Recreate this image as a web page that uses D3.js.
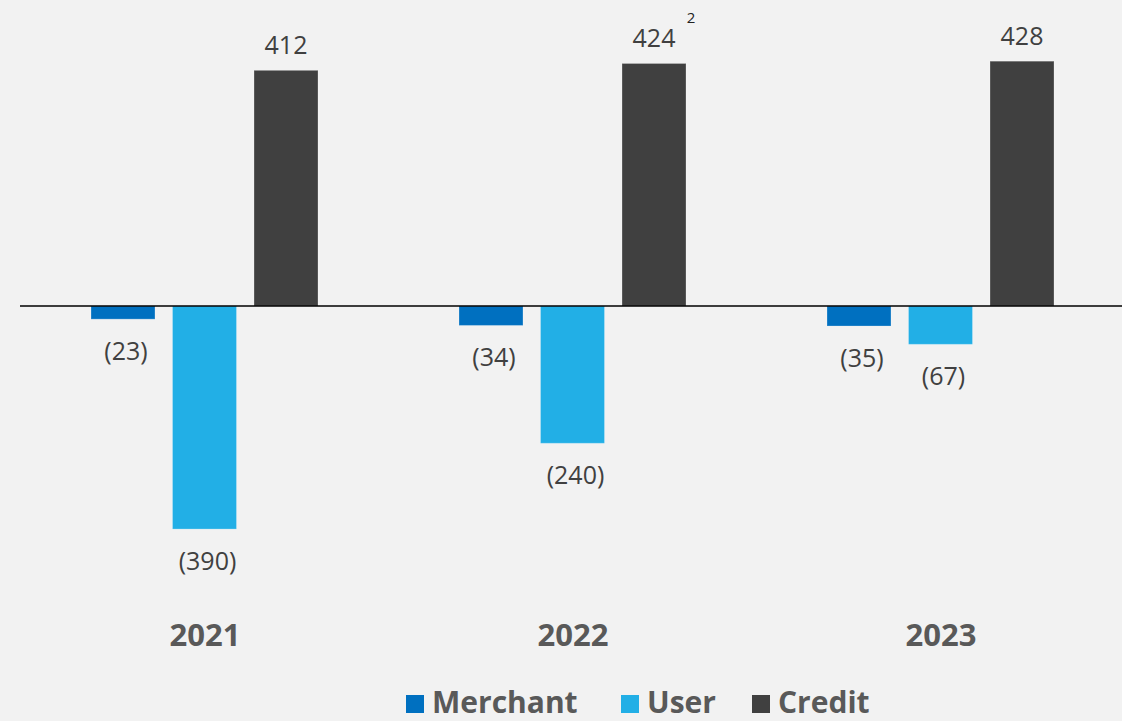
<!DOCTYPE html>
<html>
<head>
<meta charset="utf-8">
<style>
body { margin: 0; background: #F2F2F2; }
svg { display: block; }
</style>
</head>
<body>
<div id="chart"></div>
<script src="https://d3js.org/d3.v7.min.js"></script>
<script>
// data
var years = ["2021", "2022", "2023"];
var series = ["Merchant", "User", "Credit"];
var merchant = [-23, -34, -35];
var user = [-390, -240, -67];
var credit = [412, 424, 428];
var colors = ["#0070C0", "#22AFE6", "#404040"];

var width = 1122, height = 721;
var zeroY = 306;
var pxPerUnit = 0.572;

var svg = d3.select("#chart").append("svg")
  .attr("width", width)
  .attr("height", height);

svg.append("rect").attr("width", width).attr("height", height).attr("fill", "#F2F2F2");

var rows = [];
years.forEach(function(y, i) {
  rows.push({year: y, key: "Merchant", value: merchant[i]});
  rows.push({year: y, key: "User", value: user[i]});
  rows.push({year: y, key: "Credit", value: credit[i]});
});

var x0 = d3.scaleBand().domain(years).range([21, 1125]);
var x1 = d3.scaleBand().domain(series).range([70, 297]).paddingInner(0.215);
var color = d3.scaleOrdinal().domain(series).range(colors);

var y = d3.scaleLinear()
  .domain([-390, 428])
  .range([zeroY + 390 * pxPerUnit, zeroY - 428 * pxPerUnit]);

// bars
svg.selectAll("rect.bar")
  .data(rows)
  .enter()
  .append("rect")
    .attr("class", "bar")
    .attr("x", d => x0(d.year) + x1(d.key))
    .attr("y", d => Math.min(y(d.value), y(0)))
    .attr("width", x1.bandwidth())
    .attr("height", d => Math.abs(y(d.value) - y(0)))
    .attr("fill", d => color(d.key))
    .attr("stroke", "rgba(255,255,255,0.25)")
    .attr("stroke-width", 1);

// zero line
svg.append("line")
  .attr("x1", 20).attr("x2", width)
  .attr("y1", y(0)).attr("y2", y(0))
  .attr("stroke", "#000")
  .attr("stroke-width", 1.6);

// value labels
svg.append("g")
  .attr("font-family", "'Open Sans', sans-serif")
  .attr("font-size", 25)
  .attr("fill", "#404040")
  .attr("text-anchor", "middle")
.selectAll("text")
  .data(rows)
  .enter()
  .append("text")
    .attr("x", d => x0(d.year) + x1(d.key) + x1.bandwidth() / 2 + (d.value < 0 ? 3 : 0))
    .attr("y", d => d.value < 0 ? y(d.value) + 41 : y(d.value) - 16)
    .text(d => d.value < 0 ? "(" + (-d.value) + ")" : d.value);

// footnote marker on 2022 credit
svg.append("text")
  .attr("x", x0("2022") + x1("Credit") + x1.bandwidth() + 5)
  .attr("y", y(424) - 40)
  .attr("font-family", "'Open Sans', sans-serif")
  .attr("font-size", 15)
  .attr("fill", "#222")
  .attr("text-anchor", "middle")
  .text("2");

// year labels
svg.append("g")
  .attr("font-family", "'Open Sans', sans-serif")
  .attr("font-size", 31)
  .attr("font-weight", "bold")
  .attr("fill", "#595959")
  .attr("text-anchor", "middle")
.selectAll("text")
  .data(years)
  .enter()
  .append("text")
    .attr("x", d => x0(d) + x0.bandwidth() / 2)
    .attr("y", 646)
    .text(d => d);

// legend
var legendX = [406, 621, 752];
var legend = svg.append("g")
  .selectAll("g")
  .data(series)
  .enter()
  .append("g")
    .attr("transform", (d, i) => "translate(" + legendX[i] + ",695)");
legend.append("rect")
  .attr("width", 18).attr("height", 18)
  .attr("fill", d => color(d));
legend.append("text")
  .attr("x", 26).attr("y", 18)
  .attr("font-family", "'Open Sans', sans-serif")
  .attr("font-size", 30)
  .attr("font-weight", "bold")
  .attr("fill", "#595959")
  .text(d => d);
</script>
</body>
</html>
